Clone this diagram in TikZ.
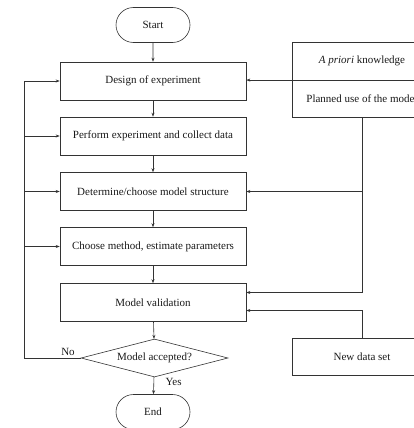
\documentclass[tikz,border=0pt]{standalone}
\usepackage{fontspec}
\setmainfont{Liberation Serif}
\usetikzlibrary{shapes.geometric,shapes.misc,arrows.meta}
\begin{document}
\begin{tikzpicture}[x=1pt,y=-1pt,
  line/.style={draw=black!80, line width=0.6pt},
  arr/.style={line, -{Stealth[length=4pt,width=3pt]}},
  txt/.style={font=\fontsize{11}{13}\selectfont, text=black!90},
  stepbox/.style={txt, draw=black!80, line width=0.6pt, minimum width=186pt, minimum height=38pt, inner sep=0pt},
  sidebox/.style={txt, draw=black!80, line width=0.6pt, minimum width=140pt, minimum height=37pt, inner sep=0pt},
  term/.style={txt, rounded rectangle, draw=black!80, line width=0.6pt, minimum width=74pt, minimum height=35pt, inner sep=0pt},
  decision/.style={txt, diamond, draw=black!80, line width=0.6pt, aspect=3.87, minimum width=147pt, minimum height=38pt, inner sep=0pt},
  lbl/.style={txt}
]
\useasboundingbox (0,0) rectangle (414,428);
\clip (0,0) rectangle (414,428);
\node[term] (start) at (153,25) {Start};
\node[stepbox] (design) at (153,81) {Design of experiment};
\node[stepbox] (perform) at (153,136) {Perform experiment and collect data};
\node[stepbox] (determine) at (153,191.5) {Determine/choose model structure};
\node[stepbox] (choose) at (153,246.5) {Choose method, estimate parameters};
\node[stepbox] (validation) at (153,302.5) {Model validation};
\node[decision] (accepted) at (154.5,358) {Model accepted?};
\node[term] (end) at (153,412) {End};
\node[sidebox] (prior) at (362,61.3) {\textit{A priori} knowledge};
\node[sidebox] (planned) at (362,98.5) {Planned use of the model};
\node[sidebox] (newdata) at (362,356.5) {New data set};
\coordinate (lp) at (24,0);

\draw[arr] (start) -- (design);
\draw[arr] (design) -- (perform);
\draw[arr] (perform) -- (determine);
\draw[arr] (determine) -- (choose);
\draw[arr] (choose) -- (validation);
\draw[arr] (validation) -- (accepted);
\draw[arr] (accepted) -- (end);

\draw[line] (accepted.west) -- (accepted.west -| lp) -- (design.west -| lp);
\draw[arr] (design.west -| lp) -- (design.west);
\draw[arr] (perform.west -| lp) -- (perform.west);
\draw[arr] (determine.west -| lp) -- (determine.west);
\draw[arr] (choose.west -| lp) -- (choose.west);

\draw[arr] (prior.south west) -- (design.east |- prior.south west);
\draw[arr] (planned.south) |- ([yshift=10pt]validation.east);
\draw[arr] (planned.south |- determine.east) -- (determine.east);
\draw[arr] (newdata.north) |- ([yshift=-8pt]validation.east);

\node[lbl] (no) at (68,352) {No};
\node[lbl, anchor=west] (yes) at (162,382) {Yes};
\end{tikzpicture}
\end{document}
